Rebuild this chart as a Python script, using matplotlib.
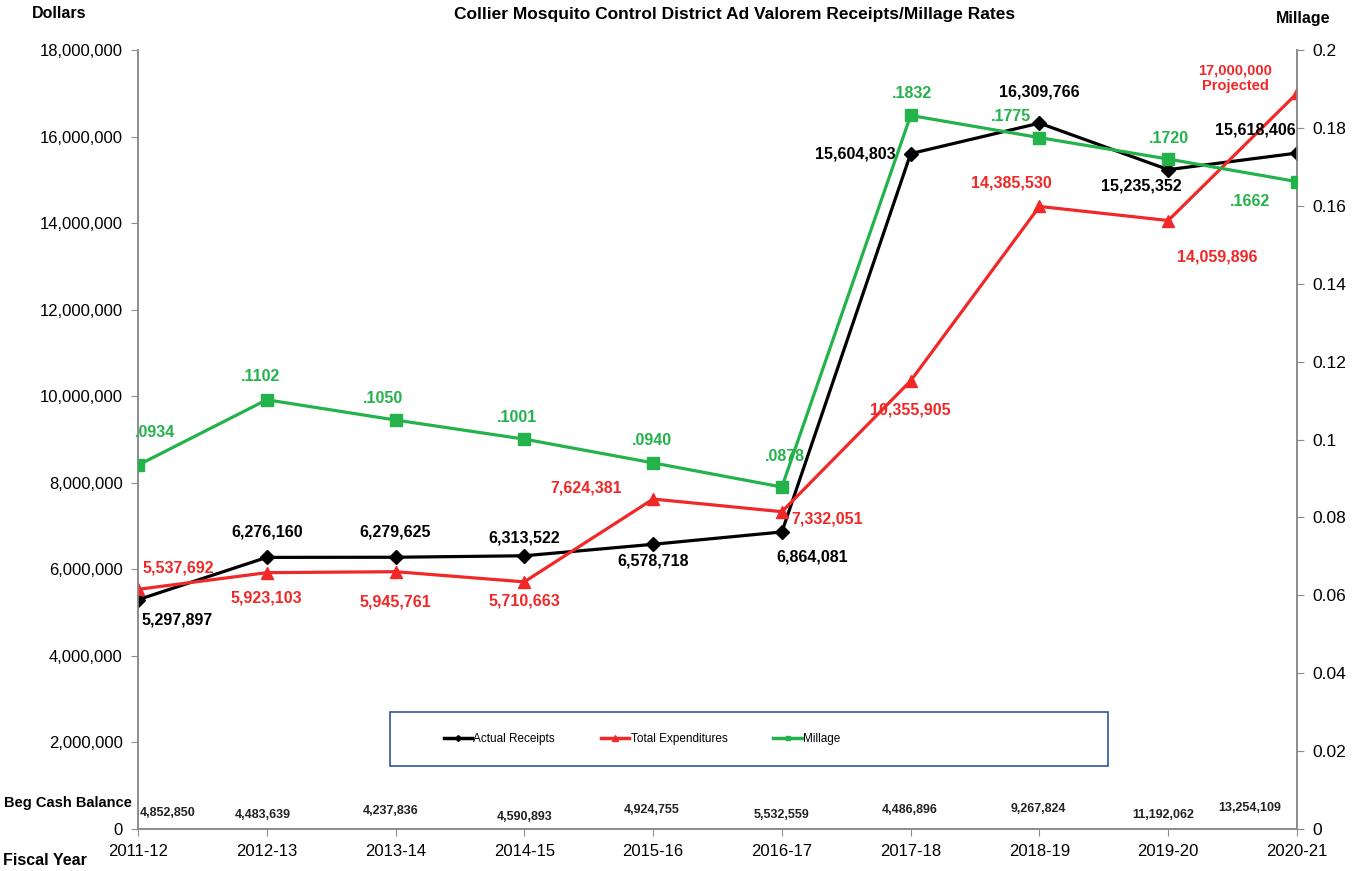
import matplotlib
matplotlib.use("Agg")
import matplotlib.pyplot as plt
from matplotlib.ticker import FuncFormatter, MultipleLocator
from matplotlib.patches import Rectangle

plt.rcParams['font.family'] = ['Liberation Sans', 'DejaVu Sans']

years = ["2011-12", "2012-13", "2013-14", "2014-15", "2015-16", "2016-17",
         "2017-18", "2018-19", "2019-20", "2020-21"]
receipts = [5297897, 6276160, 6279625, 6313522, 6578718, 6864081,
            15604803, 16309766, 15235352, 15618406]
expenditures = [5537692, 5923103, 5945761, 5710663, 7624381, 7332051,
                10355905, 14385530, 14059896, 17000000]
millage = [0.0934, 0.1102, 0.1050, 0.1001, 0.0940, 0.0878,
           0.1832, 0.1775, 0.1720, 0.1662]
millage_labels = [".0934", ".1102", ".1050", ".1001", ".0940", ".0878",
                  ".1832", ".1775", ".1720", ".1662"]
cash_balance = [4852850, 4483639, 4237836, 4590893, 4924755, 5532559,
                4486896, 9267824, 11192062, 13254109]

BLACK = "#000000"
RED = "#F02828"
GREEN = "#24B24B"

fig = plt.figure(figsize=(13.59, 8.71), dpi=100)
ax = fig.add_axes([0.1015, 0.0482, 0.8529, 0.8944])
ax2 = ax.twinx()

x = list(range(len(years)))
l1, = ax.plot(x, receipts, color=BLACK, lw=2.3, marker='D', ms=7, zorder=4)
l2, = ax.plot(x, expenditures, color=RED, lw=2.3, marker='^', ms=8.5, zorder=4)
l3, = ax2.plot(x, millage, color=GREEN, lw=2.3, marker='s', ms=8, zorder=3)

ax.set_xlim(0, 9)
ax.set_ylim(0, 18000000)
ax2.set_ylim(0, 0.2)
ax.yaxis.set_major_locator(MultipleLocator(2000000))
ax.yaxis.set_major_formatter(FuncFormatter(lambda v, p: f"{int(v):,}"))
ax2.yaxis.set_major_locator(MultipleLocator(0.02))
ax2.yaxis.set_major_formatter(FuncFormatter(lambda v, p: "0" if v == 0 else f"{v:g}"))
ax.set_xticks(x)
ax.set_xticklabels(years)

for a in (ax, ax2):
    a.spines['top'].set_visible(False)
    for s in ('left', 'right', 'bottom'):
        a.spines[s].set_color("#8c8c8c")
        a.spines[s].set_linewidth(1.2)
ax.tick_params(axis='y', length=5, color="#8c8c8c", labelsize=12, pad=6)
ax2.tick_params(axis='y', length=5, color="#8c8c8c", labelsize=12.5, pad=6)
ax.tick_params(axis='x', length=5, color="#8c8c8c", labelsize=12, pad=6)

def lab(a, xi, yi, text, dx, dy, color, size=11.5):
    a.annotate(text, (xi, yi), xytext=(dx, -dy), textcoords='offset pixels',
               ha='center', va='center', color=color, fontsize=size,
               fontweight='bold', zorder=6)

rec_off = [(39, 20), (0, -25), (0, -25), (0, -18), (0, 17), (30, 25),
           (-55, 0), (0, -31), (-27, 16), (-42, -23)]
for i, v in enumerate(receipts):
    lab(ax, i, v, f"{v:,}", rec_off[i][0], rec_off[i][1], BLACK)

exp_off = [(40, -21), (0, 25), (0, 30), (0, 19), (-67, -11), (45, 7),
           (0, 29), (-28, -23), (49, 36)]
for i, v in enumerate(expenditures[:-1]):
    lab(ax, i, v, f"{v:,}", exp_off[i][0], exp_off[i][1], RED)
lab(ax, 9, expenditures[9], f"{expenditures[9]:,}\nProjected", -62, -15, RED, 10.5)

mil_off = [(17, -33), (-6, -23), (-13, -22), (-7, -22), (-1, -22), (3, -31),
           (1, -22), (-28, -21), (1, -21), (-47, 20)]
for i, v in enumerate(millage):
    lab(ax2, i, v, millage_labels[i], mil_off[i][0], mil_off[i][1], GREEN)

cash_dy = [-16, -14, -18, -12, -19, -14, -19, -20, -14, -21]
cash_dx = [30, -4, -5, 0, -1, 0, -1, -1, -5, -47]
for i, v in enumerate(cash_balance):
    ax.annotate(f"{v:,}", (i, 0), xytext=(cash_dx[i], -cash_dy[i]),
                textcoords='offset pixels', ha='center', va='center',
                fontsize=9, fontweight='bold', color="#222222")

fig.text(68 / 1359, 1 - 803 / 871, "Beg Cash Balance", ha='center', va='center',
         fontsize=10.5, fontweight='bold')
fig.text(45 / 1359, 1 - 860 / 871, "Fiscal Year", ha='center', va='center',
         fontsize=11.5, fontweight='bold')
fig.text(59 / 1359, 1 - 14 / 871, "Dollars", ha='center', va='center',
         fontsize=11.5, fontweight='bold')
fig.text(1303 / 1359, 1 - 18 / 871, "Millage", ha='center', va='center',
         fontsize=11.5, fontweight='bold')
fig.text(735 / 1359, 1 - 14 / 871,
         "Collier Mosquito Control District Ad Valorem Receipts/Millage Rates",
         ha='center', va='center', fontsize=12.5, fontweight='bold')

# legend box
box = Rectangle((390 / 1359, 1 - 766 / 871), 718 / 1359, 54 / 871,
                transform=fig.transFigure, facecolor='white',
                edgecolor="#2F5597", linewidth=1.2, zorder=6, clip_on=False)
ax2.add_artist(box)

h1, = ax.plot([], [], color=BLACK, lw=2.5, marker='D', ms=3)
h2, = ax.plot([], [], color=RED, lw=2.5, marker='^', ms=4)
h3, = ax.plot([], [], color=GREEN, lw=2.5, marker='s', ms=3.5)
leg = ax2.legend([h1, h2, h3], ["Actual Receipts", "Total Expenditures", "Millage"],
                 loc='center', bbox_to_anchor=(642 / 1359, 1 - 739 / 871),
                 bbox_transform=fig.transFigure,
                 ncol=3, fontsize=8.5, handlelength=2.4,
                 handletextpad=0.1, columnspacing=3.9, frameon=False)
leg.set_zorder(7)

fig.savefig("out.png", dpi=100)
